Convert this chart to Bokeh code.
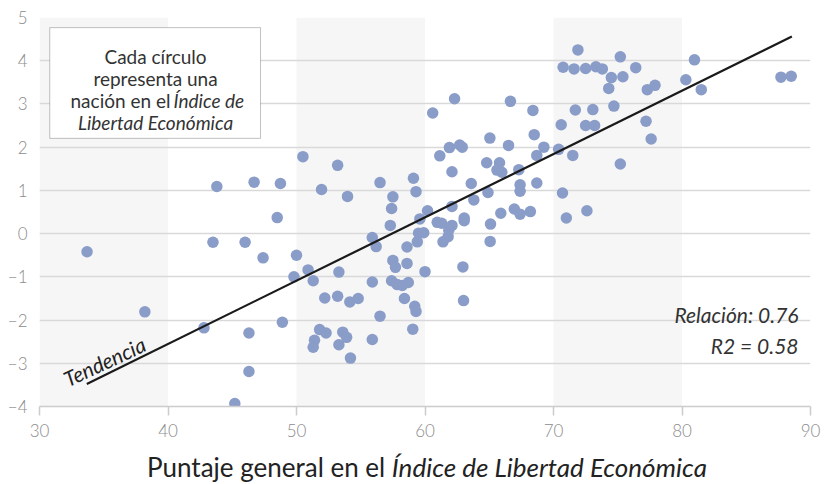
from bokeh.plotting import figure
from bokeh.models import Range1d, BoxAnnotation, Label, FixedTicker, Div
from bokeh.layouts import column
from bokeh.embed import file_html
from bokeh.resources import INLINE

# Data
x_vals = [33.7, 38.2, 43.5, 46.0, 47.4, 48.5, 50.0, 49.8, 42.8, 46.3,
          48.9, 46.3, 45.2, 43.8, 46.7, 48.75, 50.5, 51.95, 53.2, 53.97,
          56.5, 57.5, 57.4, 59.1, 59.3, 60.6, 62.3, 66.65, 68.4, 65.05,
          66.5, 68.5, 61.15, 61.9, 62.7, 62.9, 62.1, 63.6, 64.8, 65.8,
          65.6, 65.98, 67.3, 67.4, 67.4, 68.7, 69.25, 68.7, 70.75, 70.6,
          70.4, 70.7, 63.8, 64.9, 62.1, 60.2, 63.05, 65.9, 66.95, 67.4,
          68.2, 50.9, 51.3, 52.2, 53.2, 53.3, 54.15, 54.8, 51.8, 52.3,
          51.4, 51.3, 53.3, 53.6, 53.9, 54.2, 55.9, 56.5, 55.9, 55.9,
          56.2, 57.3, 57.5, 57.7, 57.4, 57.84, 58.23, 58.6, 58.7, 58.6,
          58.4, 59.2, 59.3, 59.05, 59.4, 59.5, 59.9, 59.6, 60.0, 60.95,
          61.3, 62.1, 61.85, 61.8, 61.4, 63.05, 62.95, 63.0, 65.1, 65.07,
          71.9, 71.6, 72.5, 73.3, 73.8, 75.2, 74.5, 75.4, 76.4, 74.3,
          74.7, 77.3, 77.9, 77.2, 77.6, 80.3, 80.97, 81.5, 87.7, 88.5,
          71.7, 73.06, 72.5, 73.2, 71.5, 75.2, 72.6, 71.0]
y_vals = [-0.42, -1.81, -0.2, -0.2, -0.56, 0.37, -0.5, -1.0, -2.18, -2.3,
          -2.05, -3.19, -3.93, 1.09, 1.19, 1.16, 1.78, 1.02, 1.58, 0.86,
          1.18, 0.85, 0.58, 1.28, 0.97, 2.79, 3.12, 3.06, 2.85, 2.21,
          2.04, 2.29, 1.8, 1.99, 2.05, 2.0, 1.43, 1.16, 1.64, 1.64,
          1.47, 1.42, 1.48, 1.13, 0.98, 1.17, 2.0, 1.81, 3.85, 2.52,
          1.95, 0.94, 0.78, 0.95, 0.63, 0.53, 0.36, 0.47, 0.57, 0.45,
          0.51, -0.84, -1.09, -1.49, -1.45, -0.89, -1.58, -1.5, -2.22, -2.3,
          -2.47, -2.63, -2.57, -2.28, -2.4, -2.88, -2.45, -1.91, -1.12, -0.09,
          -0.3, 0.19, -0.62, -0.78, -1.09, -1.18, -1.2, -0.69, -1.13, -0.31,
          -1.5, -1.68, -1.8, -2.21, -0.19, 0.01, 0.02, 0.34, -0.88, 0.26,
          0.24, 0.19, 0.08, -0.07, -0.19, 0.3, -0.77, -1.55, 0.22, -0.18,
          4.25, 3.81, 3.82, 3.86, 3.81, 4.09, 3.61, 3.63, 3.84, 3.36,
          2.95, 3.33, 3.43, 2.6, 2.19, 3.56, 4.02, 3.33, 3.62, 3.64,
          2.86, 2.87, 2.5, 2.5, 1.81, 1.61, 0.53, 0.36]

trend_x = [33.68, 88.55]
trend_y = [-3.48, 4.56]

x_ticks = [30, 40, 50, 60, 70, 80, 90]
y_ticks = [-4, -3, -2, -1, 0, 1, 2, 3, 4, 5]
y_tick_labels = ["\u22124", "\u22123", "\u22122", "\u22121", "0", "1", "2", "3", "4", "5"]
band_starts = [30, 50, 70]

FONT = "Lato"
TICK_FONT = "Lato Light"

p = figure(width=824, height=448, x_range=Range1d(30, 90), y_range=Range1d(-4, 5),
           output_backend="svg", toolbar_location=None,
           min_border_left=39, min_border_right=14, min_border_top=17, min_border_bottom=42)
p.outline_line_color = None
p.background_fill_color = "white"

for s in band_starts:
    p.add_layout(BoxAnnotation(left=s, right=s + 10, fill_color="#f6f6f6", fill_alpha=1,
                               line_color=None, level="image"))

p.xgrid.grid_line_color = None
p.ygrid.ticker = FixedTicker(ticks=y_ticks)
p.ygrid.grid_line_color = "#d9d9d9"
p.ygrid.grid_line_width = 1.6

p.xaxis.ticker = FixedTicker(ticks=x_ticks)
p.xaxis.axis_line_color = "#cccccc"
p.xaxis.axis_line_width = 1.5
p.xaxis.major_tick_line_color = "#cccccc"
p.xaxis.major_tick_line_width = 1.5
p.xaxis.major_tick_out = 9
p.xaxis.major_tick_in = 0
p.xaxis.minor_tick_line_color = None
p.xaxis.major_label_standoff = 8
p.xaxis.major_label_text_font = TICK_FONT
p.xaxis.major_label_text_font_size = "17px"
p.xaxis.major_label_text_color = "#8c8c8c"

p.yaxis.ticker = FixedTicker(ticks=y_ticks)
p.yaxis.major_label_overrides = {t: l for t, l in zip(y_ticks, y_tick_labels)}
p.yaxis.axis_line_color = None
p.yaxis.major_tick_line_color = None
p.yaxis.minor_tick_line_color = None
p.yaxis.major_tick_out = 0
p.yaxis.major_tick_in = 0
p.yaxis.major_label_standoff = 12
p.yaxis.major_label_text_font = TICK_FONT
p.yaxis.major_label_text_font_size = "17px"
p.yaxis.major_label_text_color = "#8c8c8c"

p.scatter(x_vals, y_vals, size=11.5, fill_color="#8a9cc8", line_color=None)
p.line(trend_x, trend_y, line_color="#1a1a1a", line_width=2.2)

# Info box
p.add_layout(BoxAnnotation(left=30.8, right=47.2, top=4.766, bottom=2.204, fill_color="white",
                           fill_alpha=1, line_color="#333333", line_width=1, level="annotation"))

def lab(x, y, text, align="center", style="normal", size="19px", color="#333333", angle=0):
    p.add_layout(Label(x=x, y=y, text=text, text_align=align, text_baseline="alphabetic",
                       text_font=FONT, text_font_style=style, text_font_size=size,
                       text_color=color, angle=angle, angle_units="deg"))

lab(39.03, 4.10, "Cada círculo")
lab(39.03, 3.59, "representa una")
lab(40.19, 3.07, "nación en el", align="right")
lab(40.43, 3.07, "Índice de", align="left", style="italic")
lab(39.03, 2.56, "Libertad Económica", style="italic")

lab(89.07, -1.86, "Relación: 0.76", align="right", style="italic", size="21px")
lab(89.07, -2.58, "R2 = 0.58", align="right", style="italic", size="21px")

lab(31.95, -3.38, "Tendencia", align="left", style="italic", size="21px", color="#222222", angle=25)

title = Div(width=824, height=36,
            text='<div style="width:824px;box-sizing:border-box;padding-left:20px;padding-top:0px;'
                 'text-align:center;font-family:Lato;font-size:26px;line-height:28px;color:#222222;'
                 'white-space:nowrap;">'
                 'Puntaje general en el <i>Índice de Libertad Económica</i></div>')

layout = column(p, title, spacing=0)
open("out.html", "w").write(file_html(layout, INLINE))
